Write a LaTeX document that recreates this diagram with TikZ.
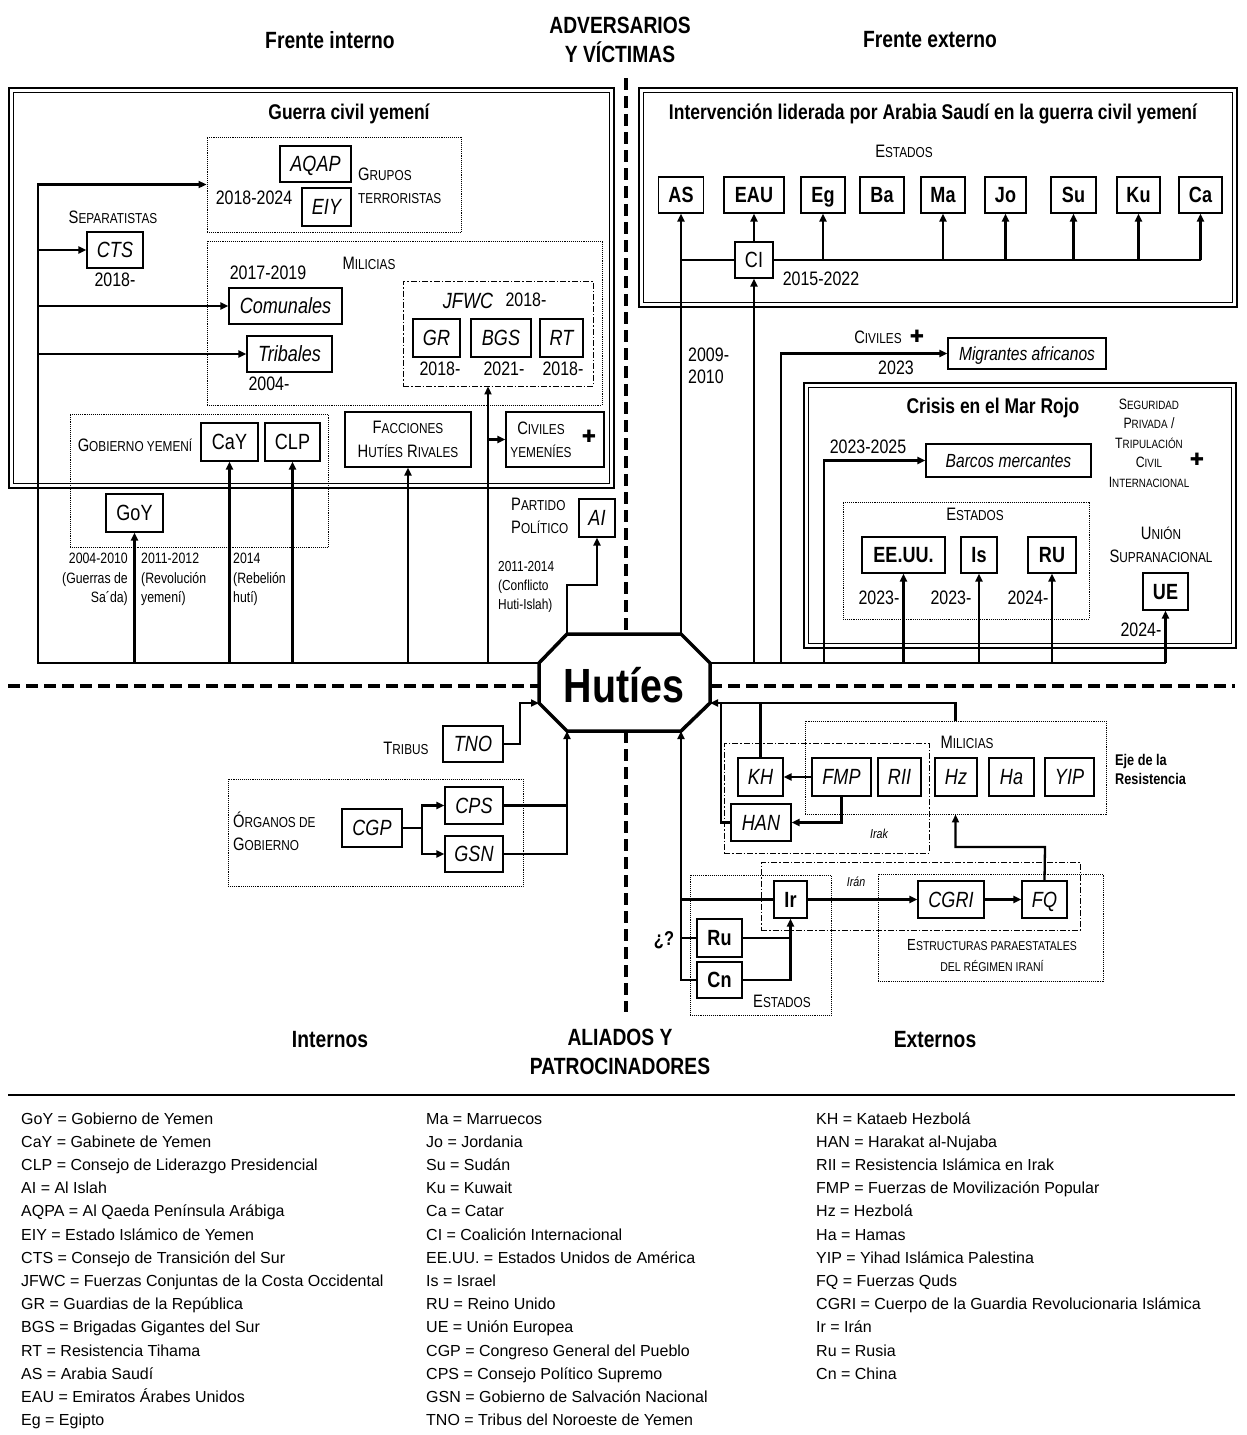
\documentclass[tikz,border=0pt]{standalone}
\usepackage{fontspec}
\setmainfont{Liberation Sans}
\newfontfamily\nf{Liberation Sans}[FakeStretch=0.82]
\newfontfamily\djv{DejaVu Sans}
\usepackage{relsize}
\usetikzlibrary{arrows.meta,calc}
\newcommand\fs[2]{\fontsize{#1}{#2}\selectfont}
\newcommand\Sc[2]{#1\textscale{0.8}{#2}}
\newcommand\SC[1]{\textscale{0.8}{#1}}
\tikzset{
 ln/.style={line width=2.3pt},
 arr/.style={line width=2.3pt,-{Triangle[length=8pt,width=7pt]}},
 bxbase/.style={draw,line width=1.1pt,fill=white,inner sep=0pt},
 bx/.style={bxbase,text height=17pt,text depth=1.5pt,font=\nf\fs{22}{24}},
 ibx/.style={bx,font=\nf\itshape\fs{22}{24}},
 bbx/.style={bx,font=\nf\bfseries\fs{22}{24}},
 mbx/.style={bxbase,text height=15pt,text depth=1.5pt,font=\nf\itshape\fs{19}{22}},
 grp/.style={draw,densely dotted,line width=0.9pt,inner sep=0pt},
 dgrp/.style={draw,dash pattern=on 6pt off 2pt on 1.5pt off 2pt,line width=0.9pt,inner sep=0pt},
 lab/.style={inner sep=0pt,font=\nf\fs{18}{23}},
 slab/.style={inner sep=0pt,font=\nf\fs{15}{19.5}},
 yr/.style={inner sep=0pt,font=\nf\fs{19.5}{22}},
 ttl/.style={inner sep=0pt,font=\nf\bfseries\fs{23.5}{29}},
 htl/.style={inner sep=0pt,font=\nf\bfseries\fs{21.3}{24}},
 frameo/.style={line width=2.6pt},
 framei/.style={line width=1.3pt},
 axis/.style={line width=4pt,dash pattern=on 12pt off 6pt},
 leg/.style={anchor=base west,inner sep=0pt,font=\fs{16}{18}},
 plus/.style={inner sep=0pt,font=\djv\bfseries\fs{17}{18}}
}
\begin{document}
\begin{tikzpicture}[x=1pt,y=-1pt]
\useasboundingbox (0,0) rectangle (1247,1435);
\fill[white] (0,0) rectangle (1247,1435);

% ---------- titles
\node[ttl] (t1) at (330,40) {Frente interno};
\node[ttl,align=center] (t2) at (620,40) {ADVERSARIOS\\Y VÍCTIMAS};
\node[ttl] (t3) at (930,40) {Frente externo};
\node[ttl] (t4) at (330,1040) {Internos};
\node[ttl,align=center] (t5) at (620,1052) {ALIADOS Y\\PATROCINADORES};
\node[ttl] (t6) at (935,1040) {Externos};

% ---------- axes
\draw[axis] (626,78) -- (626,634);
\draw[axis] (626,731) -- (626,1012);
\draw[axis] (8,686) -- (539,686);
\draw[axis] (710,686) -- (1235,686);

% ---------- frames
\draw[frameo] (9,88) rectangle (614,488);
\draw[framei] (13.5,92.5) rectangle (609.5,483.5);
\draw[frameo] (639,88) rectangle (1237,307);
\draw[framei] (643.5,92.5) rectangle (1232.5,302.5);
\draw[frameo] (804,383) rectangle (1236,648);
\draw[framei] (808.5,387.5) rectangle (1231.5,643.5);

\node[htl] (tg) at (349,114) {Guerra civil yemení};
\node[htl] (ti) at (933,114) {Intervención liderada por Arabia Saudí en la guerra civil yemení};
\node[htl] (tc) at (993,408) {Crisis en el Mar Rojo};

% ---------- group boxes
\node[grp,minimum width=254,minimum height=95] (grp) at (334,184.5) {};
\node[grp,minimum width=395,minimum height=164] (mil) at (404.5,323) {};
\node[dgrp,minimum width=190,minimum height=105] (jfwc) at (498,333.5) {};
\node[grp,minimum width=258,minimum height=133] (gob) at (199,480.5) {};
\node[grp,minimum width=246,minimum height=117] (est) at (966,560.5) {};
\node[grp,minimum width=295,minimum height=107] (org) at (375.5,832.5) {};
\node[grp,minimum width=301,minimum height=93] (mil2) at (955.5,767.5) {};
\node[dgrp,minimum width=205,minimum height=110] (irak) at (826.5,798) {};
\node[dgrp,minimum width=319,minimum height=68] (iran) at (920.5,896) {};
\node[grp,minimum width=225,minimum height=107] (estr) at (990.5,927.5) {};
\node[grp,minimum width=141,minimum height=140] (est2) at (760.5,945) {};

% ---------- octagon coordinates
\coordinate (o1) at (567,634);
\coordinate (o2) at (681,634);
\coordinate (o3) at (710,663);
\coordinate (o4) at (710,703);
\coordinate (o5) at (681,731);
\coordinate (o6) at (567,731);
\coordinate (o7) at (539,703);
\coordinate (o8) at (539,663);

% ---------- left frame nodes
\node[ibx,minimum width=71,minimum height=36] (aqap) at (315.5,164) {AQAP};
\node[ibx,minimum width=49,minimum height=38] (eiy) at (326.5,207) {EIY};
\node[yr] (y1) at (254,198) {2018-2024};
\node[lab,align=left,anchor=west] (grpL) at (358,186) {\Sc{G}{RUPOS}\\\SC{TERRORISTAS}};
\node[lab] (sepL) at (113,217) {\Sc{S}{EPARATISTAS}};
\node[ibx,minimum width=56,minimum height=36] (cts) at (115,250) {CTS};
\node[yr] (y2) at (115,280) {2018-};
\node[lab] (milL) at (369,263) {\Sc{M}{ILICIAS}};
\node[yr] (y3) at (268,273) {2017-2019};
\node[ibx,minimum width=113,minimum height=36] (com) at (285.5,306) {Comunales};
\node[ibx,minimum width=85,minimum height=36] (trib) at (289.5,354) {Tribales};
\node[yr] (y4) at (269,384) {2004-};
\node[inner sep=0pt,font=\nf\itshape\fs{22}{24}] (jfwcL) at (468,301) {JFWC};
\node[yr] (y5) at (526,300) {2018-};
\node[ibx,minimum width=47,minimum height=38] (gr) at (436.5,338) {GR};
\node[ibx,minimum width=60,minimum height=38] (bgs) at (501,338) {BGS};
\node[ibx,minimum width=43,minimum height=38] (rt) at (561.5,338) {RT};
\node[yr] (y6) at (440,369) {2018-};
\node[yr] (y7) at (504,369) {2021-};
\node[yr] (y8) at (563,369) {2018-};
\node[lab] (gobL) at (135,445) {\Sc{G}{OBIERNO YEMENÍ}};
\node[bx,minimum width=57,minimum height=38] (cay) at (229.5,442) {CaY};
\node[bx,minimum width=55,minimum height=38] (clp) at (292.5,442) {CLP};
\node[bx,minimum width=57,minimum height=38] (goy) at (134.5,513) {GoY};
\node[bxbase,minimum width=126,minimum height=55,align=center,font=\nf\fs{18}{24}] (facc) at (408,439.5) {\Sc{F}{ACCIONES}\\\Sc{H}{UTÍES} \Sc{R}{IVALES}};
\node[bxbase,minimum width=98,minimum height=55] (civ) at (555,439.5) {};
\node[lab,align=center] (civL) at (541,440) {\Sc{C}{IVILES}\\\SC{YEMENÍES}};
\node[plus] (civP) at (589,436) {✚};
\node[lab,align=left,anchor=west] (partL) at (511,516) {\Sc{P}{ARTIDO}\\\Sc{P}{OLÍTICO}};
\node[ibx,minimum width=36,minimum height=38] (ai) at (597,518) {AI};
\node[slab,align=right,anchor=north east] (l1) at (128,553) {2004-2010\\(Guerras de\\Sa´da)};
\node[slab,align=left,anchor=north west] (l2) at (141,553) {2011-2012\\(Revolución\\yemení)};
\node[slab,align=left,anchor=north west] (l3) at (233,553) {2014\\(Rebelión\\hutí)};
\node[slab,align=left,anchor=north west,font=\nf\fs{14.5}{19}] (l4) at (498,561) {2011-2014\\(Conflicto\\Huti-Islah)};

% ---------- right frame nodes
\node[lab] (estL) at (904,151) {\Sc{E}{STADOS}};
\node[bbx,minimum width=45,minimum height=36] (as) at (681,195) {AS};
\node[bbx,minimum width=60,minimum height=36] (eau) at (754,195) {EAU};
\node[bbx,minimum width=44,minimum height=36] (eg) at (823,195) {Eg};
\node[bbx,minimum width=44,minimum height=36] (ba) at (882,195) {Ba};
\node[bbx,minimum width=44,minimum height=36] (ma) at (943,195) {Ma};
\node[bbx,minimum width=41,minimum height=36] (jo) at (1005.5,195) {Jo};
\node[bbx,minimum width=45,minimum height=36] (su) at (1073.5,195) {Su};
\node[bbx,minimum width=43,minimum height=36] (ku) at (1138.5,195) {Ku};
\node[bbx,minimum width=43,minimum height=36] (ca) at (1200.5,195) {Ca};
\node[bx,minimum width=38,minimum height=36] (ci) at (754,260) {CI};
\node[yr] (y9) at (821,279) {2015-2022};
\node[yr,align=left,anchor=west] (y10) at (688,366) {2009-\\2010};
\node[lab] (civ2L) at (878,337) {\Sc{C}{IVILES}};
\node[plus] (civ2P) at (917,336) {✚};
\node[mbx,minimum width=158,minimum height=31] (mig) at (1027,353.5) {Migrantes africanos};
\node[yr] (y11) at (896,368) {2023};
\node[slab,align=center] (segL) at (1149,443) {\Sc{S}{EGURIDAD}\\\Sc{P}{RIVADA} /\\\Sc{T}{RIPULACIÓN}\\\Sc{C}{IVIL}\\\Sc{I}{NTERNACIONAL}};
\node[plus] (segP) at (1197,459) {✚};
\node[yr] (y12) at (868,447) {2023-2025};
\node[mbx,minimum width=165,minimum height=33] (bar) at (1008.5,460.5) {Barcos mercantes};
\node[lab] (est3L) at (975,514) {\Sc{E}{STADOS}};
\node[bbx,minimum width=83,minimum height=36] (eeuu) at (903.5,555) {EE.UU.};
\node[bbx,minimum width=36,minimum height=36] (is) at (979,555) {Is};
\node[bbx,minimum width=48,minimum height=36] (ru) at (1052,555) {RU};
\node[yr] (y13) at (879,598) {2023-};
\node[yr] (y14) at (951,598) {2023-};
\node[yr] (y15) at (1028,598) {2024-};
\node[lab,align=center] (unL) at (1161,544.5) {\Sc{U}{NIÓN}\\\Sc{S}{UPRANACIONAL}};
\node[bbx,minimum width=45,minimum height=37] (ue) at (1165.5,591.5) {UE};
\node[yr] (y16) at (1141,630) {2024-};

% ---------- bottom left nodes
\node[lab] (triL) at (406,748) {\Sc{T}{RIBUS}};
\node[ibx,minimum width=60,minimum height=36] (tno) at (473,744) {TNO};
\node[lab,align=left,anchor=west] (orgL) at (233,831.5) {\Sc{Ó}{RGANOS DE}\\\Sc{G}{OBIERNO}};
\node[ibx,minimum width=60,minimum height=38] (cgp) at (372,828) {CGP};
\node[ibx,minimum width=58,minimum height=37] (cps) at (474,805.5) {CPS};
\node[ibx,minimum width=58,minimum height=36] (gsn) at (474,854) {GSN};

% ---------- bottom right nodes
\node[lab] (mil2L) at (967,742) {\Sc{M}{ILICIAS}};
\node[inner sep=0pt,font=\nf\itshape\fs{13}{15}] (irakL) at (879,834) {Irak};
\node[ibx,minimum width=45,minimum height=38] (kh) at (760.5,777) {KH};
\node[ibx,minimum width=59,minimum height=38] (fmp) at (841.5,777) {FMP};
\node[ibx,minimum width=43,minimum height=38] (rii) at (899.5,777) {RII};
\node[ibx,minimum width=42,minimum height=38] (hz) at (956,777) {Hz};
\node[ibx,minimum width=45,minimum height=38] (ha) at (1011.5,777) {Ha};
\node[ibx,minimum width=49,minimum height=38] (yip) at (1069.5,777) {YIP};
\node[ibx,minimum width=60,minimum height=37] (han) at (761,822.5) {HAN};
\node[inner sep=0pt,align=left,anchor=west,font=\nf\bfseries\fs{15.5}{19}] (ejeL) at (1115,769) {Eje de la\\Resistencia};
\node[inner sep=0pt,font=\nf\itshape\fs{13}{15}] (iranL) at (856,882) {Irán};
\node[ibx,minimum width=66,minimum height=37] (cgri) at (951,899.5) {CGRI};
\node[ibx,minimum width=45,minimum height=37] (fq) at (1044.5,899.5) {FQ};
\node[inner sep=0pt,align=center,font=\nf\fs{16}{21}] (estrL) at (992,955.5) {\Sc{E}{STRUCTURAS PARAESTATALES}\\\SC{DEL RÉGIMEN IRANÍ}};
\node[lab] (est2L) at (782,1001) {\Sc{E}{STADOS}};
\node[bbx,minimum width=33,minimum height=37] (ir) at (790.5,899.5) {Ir};
\node[bbx,minimum width=45,minimum height=38] (rus) at (719.5,938) {Ru};
\node[bbx,minimum width=45,minimum height=36] (cn) at (719.5,980) {Cn};
\node[inner sep=0pt,font=\nf\bfseries\fs{20}{22}] (qL) at (664,940) {¿?};

% ---------- connector coordinates
\coordinate (bl) at (38,663);
\coordinate (jx) at (488,663);
\coordinate (aiK) at (567,585);
\coordinate (mx) at (781,663);
\coordinate (bk) at (824,663);
\coordinate (tnoK) at (520,744);
\coordinate (cgpK) at (422,828);
\coordinate (hanK) at (721,822.5);
\coordinate (fqK) at (1045,847);
\coordinate (cnK) at (681,980);

% ---------- left connectors
\draw[arr] (o8) -- (bl) |- (grp.west);
\draw[arr] (bl |- cts.west) -- (cts.west);
\draw[arr] (bl |- com.west) -- (com.west);
\draw[arr] (bl |- trib.west) -- (trib.west);
\draw[arr] (goy.south |- bl) -- (goy.south);
\draw[arr] (cay.south |- bl) -- (cay.south);
\draw[arr] (clp.south |- bl) -- (clp.south);
\draw[arr] (facc.south |- bl) -- (facc.south);
\draw[arr] (jx) -- (jx |- jfwc.south);
\draw[arr] (jx |- civ.west) -- (civ.west);
\draw[arr] (o1) -- (aiK) -| (ai.south);

% ---------- right connectors
\draw[arr] (o2) -- (as.south);
\draw[ln] (o3) -- (ue.south |- o3);
\draw[arr] (ci.south |- o3) -- (ci.south);
\draw[arr] (ci.north) -- (eau.south);
\draw[line width=1.8pt] (as.south |- ci.west) -- (ci.west);
\draw[ln] (ci.east) -- (ca.south |- ci.east);
\foreach \n in {eg,ma,jo,su,ku,ca} \draw[arr] (\n.south |- ci.east) -- (\n.south);
\draw[arr] (mx) |- (mig.west);
\draw[arr] (bk) |- (bar.west);
\foreach \n in {eeuu,is,ru,ue} \draw[arr] (\n.south |- o3) -- (\n.south);

% ---------- bottom left connectors
\draw[arr] (tno.east) -- (tnoK) |- (o7);
\draw[ln] (cgp.east) -- (cgpK);
\draw[arr] (cgpK) |- (cps.west);
\draw[arr] (cgpK) |- (gsn.west);
\draw[ln] (cps.east) -- (cps.east -| o6);
\draw[arr] (gsn.east) -| (o6);

% ---------- bottom right connectors
\draw[arr] (cn.west) -- (cnK) -- (o5);
\draw[ln] (rus.west) -- (rus.west -| o5);
\draw[ln] (ir.west) -- (ir.west -| o5);
\draw[ln] (rus.east) -- (rus.east -| ir.south);
\draw[arr] (cn.east) -| (ir.south);
\draw[arr] (ir.east) -- (cgri.west);
\draw[arr] (cgri.east) -- (fq.west);
\draw[arr] (fq.north) -- (fqK) -| (mil2.south);
\draw[arr] (mil2.north) |- (o4);
\draw[ln] (kh.north) -- (kh.north |- o4);
\draw[ln] (han.west) -- (hanK) -- (hanK |- o4);
\draw[arr] (fmp.west) -- (kh.east);
\draw[arr] (fmp.south) |- (han.east);

% ---------- octagon
\draw[line width=3.5pt,fill=white,line join=miter] (o1) -- (o2) -- (o3) -- (o4) -- (o5) -- (o6) -- (o7) -- (o8) -- cycle;
\node[inner sep=0pt,font=\nf\bfseries\fs{48}{50}] (hut) at (624,685) {Hutíes};

% ---------- legend
\draw[line width=2pt] (8,1095) -- (1235,1095);
\foreach \t [count=\i] in {GoY = Gobierno de Yemen, CaY = Gabinete de Yemen, CLP = Consejo de Liderazgo Presidencial, AI = Al Islah, AQPA = Al Qaeda Península Arábiga, EIY = Estado Islámico de Yemen, CTS = Consejo de Transición del Sur, JFWC = Fuerzas Conjuntas de la Costa Occidental, GR = Guardias de la República, BGS = Brigadas Gigantes del Sur, RT = Resistencia Tihama, AS = Arabia Saudí, EAU = Emiratos Árabes Unidos, Eg = Egipto}
  \node[leg] (la\i) at (21,{1124+23.2*(\i-1)}) {\t};
\foreach \t [count=\i] in {Ma = Marruecos, Jo = Jordania, Su = Sudán, Ku = Kuwait, Ca = Catar, CI = Coalición Internacional, EE.UU. = Estados Unidos de América, Is = Israel, RU = Reino Unido, UE = Unión Europea, CGP = Congreso General del Pueblo, CPS = Consejo Político Supremo, GSN = Gobierno de Salvación Nacional, TNO = Tribus del Noroeste de Yemen}
  \node[leg] (lb\i) at (426,{1124+23.2*(\i-1)}) {\t};
\foreach \t [count=\i] in {KH = Kataeb Hezbolá, HAN = Harakat al-Nujaba, RII = Resistencia Islámica en Irak, FMP = Fuerzas de Movilización Popular, Hz = Hezbolá, Ha = Hamas, YIP = Yihad Islámica Palestina, FQ = Fuerzas Quds, CGRI = Cuerpo de la Guardia Revolucionaria Islámica, Ir = Irán, Ru = Rusia, Cn = China}
  \node[leg] (lc\i) at (816,{1124+23.2*(\i-1)}) {\t};
\end{tikzpicture}
\end{document}
